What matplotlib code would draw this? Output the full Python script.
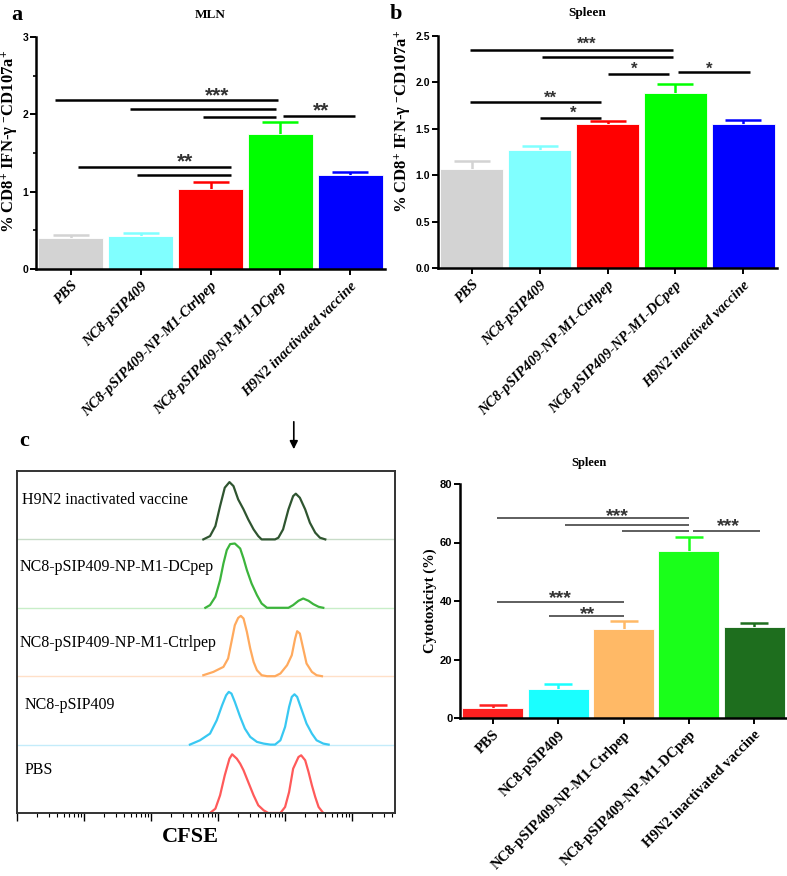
import matplotlib
matplotlib.use('Agg')
import matplotlib.pyplot as plt
import numpy as np

plt.rcParams['font.family'] = ['Liberation Serif', 'DejaVu Serif']
plt.rcParams['mathtext.default'] = 'regular'

# ---- data ----
groups = ['PBS', 'NC8-pSIP409', 'NC8-pSIP409-NP-M1-Ctrlpep',
          'NC8-pSIP409-NP-M1-DCpep', 'H9N2 inactivated vaccine']
groups_b = ['PBS', 'NC8-pSIP409', 'NC8-pSIP409-NP-M1-Ctrlpep',
            'NC8-pSIP409-NP-M1-DCpep', 'H9N2 inactived vaccine']

mln_mean = [0.40, 0.43, 1.04, 1.75, 1.21]
mln_err = [0.04, 0.04, 0.09, 0.15, 0.05]
spleen_mean = [1.07, 1.27, 1.55, 1.89, 1.55]
spleen_err = [0.08, 0.04, 0.03, 0.09, 0.05]
cyto_mean = [3.4, 9.8, 30.3, 57.2, 31.1]
cyto_err = [1.0, 1.7, 2.7, 4.8, 1.4]

colors_ab = ['#d3d3d3', '#80ffff', '#ff0000', '#00ff00', '#0000ff']
colors_c = ['#ff2020', '#1affff', '#ffb966', '#1aff1a', '#1e6e1e']

# significance brackets: start, end, height ; star labels: text, x, y
sig_a_x1 = [-0.23, 0.84, 1.89, 3.04, 0.10, 0.94]
sig_a_x2 = [2.97, 2.94, 2.94, 4.07, 2.30, 2.30]
sig_a_y = [2.18, 2.07, 1.96, 1.98, 1.32, 1.21]
star_a = [('***', 2.10, 2.28), ('**', 3.58, 2.09), ('**', 1.63, 1.43)]

sig_b_x1 = [-0.03, 1.03, 2.00, 3.04, -0.03, 1.00]
sig_b_x2 = [2.97, 2.97, 2.91, 4.10, 1.91, 1.91]
sig_b_y = [2.35, 2.27, 2.09, 2.11, 1.79, 1.62]
star_b = [('***', 1.70, 2.44), ('*', 2.40, 2.17), ('*', 3.50, 2.17),
          ('**', 1.16, 1.86), ('*', 1.50, 1.69)]

sig_c_x1 = [0.07, 1.10, 1.98, 3.06, 0.07, 0.86]
sig_c_x2 = [3.00, 3.00, 3.00, 4.08, 2.00, 2.00]
sig_c_y = [68.3, 65.9, 64.0, 64.0, 39.7, 35.0]
star_c = [('***', 1.90, 70.2), ('***', 3.60, 66.6), ('***', 1.03, 42.0), ('**', 1.45, 36.7)]

# CFSE histograms (log10 intensity, counts), bottom row first
hist_labels = ['PBS', 'NC8-pSIP409', 'NC8-pSIP409-NP-M1-Ctrlpep',
               'NC8-pSIP409-NP-M1-DCpep', 'H9N2 inactivated vaccine']
hist_colors = ['#ff5a5a', '#38c8f2', '#ffaa5e', '#3cb43c', '#2f5530']
base_colors = ['#ffc8c8', '#c4ecfa', '#ffe0c8', '#c8eec8', '#c8dcc8']

pbs_x = [2.88, 2.96, 3.03, 3.10, 3.17, 3.21, 3.28, 3.33, 3.38, 3.45, 3.53, 3.60, 3.68, 3.75,
         3.93, 4.00, 4.06, 4.12, 4.20, 4.24, 4.30, 4.35, 4.40, 4.45, 4.50, 4.57]
pbs_y = [0, 4.3, 17.7, 37.7, 54.3, 58.7, 54.3, 49.3, 42.7, 31, 17.7, 7.7, 2.7, 0,
         0, 6, 21, 44.3, 56, 57.7, 52.7, 41, 27.7, 16, 6, 0]
nc8_x = [2.58, 2.73, 2.88, 2.98, 3.06, 3.12, 3.16, 3.20, 3.25, 3.33, 3.40, 3.48, 3.58, 3.68, 3.78,
         3.85, 3.93, 4.00, 4.06, 4.10, 4.14, 4.18, 4.25, 4.32, 4.40, 4.47, 4.57, 4.65]
nc8_y = [0, 4.3, 11, 24.3, 39.3, 49.3, 52.7, 51, 42.7, 27.7, 16, 7.7, 2.7, 1, 0,
         0, 4.3, 17.7, 37.7, 47.7, 50.3, 47.7, 34.3, 21, 11, 4.3, 1, 0]
ctrl_x = [2.78, 2.93, 3.08, 3.15, 3.20, 3.25, 3.30, 3.34, 3.38, 3.43, 3.48, 3.53, 3.58, 3.65, 3.73,
          3.85, 3.93, 4.03, 4.10, 4.15, 4.18, 4.22, 4.27, 4.32, 4.40, 4.47, 4.55]
ctrl_y = [1, 4.3, 9.3, 17.7, 34.3, 51, 58.3, 60.3, 57.7, 44.3, 27.7, 14.3, 6, 1, 0,
          0, 2.7, 11, 21, 37.7, 45, 42.7, 27.7, 12.7, 4.3, 1, 0]
dc_x = [2.81, 2.88, 2.96, 3.03, 3.08, 3.13, 3.18, 3.25, 3.33, 3.38, 3.43, 3.50, 3.58, 3.65, 3.73,
        4.05, 4.12, 4.20, 4.27, 4.35, 4.42, 4.50, 4.57]
dc_y = [0, 2.7, 11, 27.7, 44.3, 57.7, 63.7, 64.3, 59.3, 49.3, 37.7, 24.3, 12.7, 4.3, 0,
        0, 2.7, 7, 9.3, 7, 3.7, 1, 0]
h9_x = [2.78, 2.88, 2.96, 3.03, 3.10, 3.17, 3.23, 3.30, 3.38, 3.45, 3.53, 3.60, 3.65,
        3.85, 3.90, 3.97, 4.05, 4.12, 4.16, 4.22, 4.30, 4.37, 4.45, 4.52, 4.60]
h9_y = [0, 3.3, 13.3, 33.3, 51.7, 57.3, 53.3, 40, 30, 20, 10, 3.3, 0,
        0, 1.7, 10, 30, 43.3, 45.7, 41.7, 30, 16.7, 6.7, 1.7, 0]
hist_x = [pbs_x, nc8_x, ctrl_x, dc_x, h9_x]
hist_y = [pbs_y, nc8_y, ctrl_y, dc_y, h9_y]

W, H = 787, 876
fig = plt.figure(figsize=(W / 100, H / 100), dpi=100)


def px_axes(left, top, right, bottom):
    return fig.add_axes([left / W, 1 - bottom / H, (right - left) / W, (bottom - top) / H])


def bar_panel(ax, labels, means, errs, colors, capsize, spine_w):
    x = np.arange(len(means))
    ax.bar(x, means, width=0.93, color=colors, edgecolor='white', linewidth=0.6, zorder=2)
    for i in range(len(means)):
        eb = ax.errorbar(x[i], means[i], yerr=[[0], [errs[i]]], fmt='none', ecolor=colors[i],
                         elinewidth=1.8, capsize=capsize, capthick=1.8, zorder=1)
        eb[1][0].set_visible(False)
    ax.set_xlim(-0.5, 4.5)
    ax.spines['top'].set_visible(False)
    ax.spines['right'].set_visible(False)
    ax.spines['left'].set_linewidth(spine_w)
    ax.spines['bottom'].set_linewidth(spine_w)
    ax.tick_params(direction='out', length=4, width=1.4)
    ax.tick_params(axis='y', pad=1.5)
    ax.set_xticks(x)


def significance(ax, x1, x2, y, stars, lw, color, size):
    for a, b, h in zip(x1, x2, y):
        ax.plot([a, b], [h, h], color=color, lw=lw, solid_capstyle='butt', clip_on=False)
    for s, sx, sy in stars:
        ax.annotate(s, (sx, sy), xytext=(0, -0.42 * size), textcoords='offset points',
                    ha='center', va='baseline', fontsize=size, fontweight='bold',
                    family='Liberation Sans', color='#333333')


ylab = '% CD8$^{+}$ IFN-γ $^{-}$CD107a$^{+}$'

# ---- panel a ----
ax_a = px_axes(36, 37, 385, 269)
bar_panel(ax_a, groups, mln_mean, mln_err, colors_ab, 13, 1.8)
ax_a.set_ylim(0, 3)
ax_a.set_yticks([0, 1, 2, 3])
ax_a.set_yticks([0.5, 1.5, 2.5], minor=True)
ax_a.tick_params(which='minor', length=2.5, width=1.2)
ax_a.set_yticklabels(['0', '1', '2', '3'], family='Liberation Sans', fontweight='bold', fontsize=7.5)
ax_a.set_xticklabels(groups, rotation=45, ha='right', rotation_mode='anchor',
                     fontstyle='italic', fontweight='bold', fontsize=10.5)
ax_a.set_ylabel(ylab, fontweight='bold', fontsize=12)
ax_a.yaxis.set_label_coords(-0.045, 0.55)
significance(ax_a, sig_a_x1, sig_a_x2, sig_a_y, star_a, 1.8, 'black', 15)
fig.text(210 / W, 1 - 15 / H, 'MLN', ha='center', va='center', fontweight='bold', fontsize=9.5)
fig.text(17 / W, 1 - 15 / H, 'a', ha='center', va='center', fontweight='bold', fontsize=16)

# ---- panel b ----
ax_b = px_axes(438, 36, 777, 268)
bar_panel(ax_b, groups_b, spleen_mean, spleen_err, colors_ab, 13, 1.8)
ax_b.set_ylim(0, 2.5)
ax_b.set_yticks([0, 0.5, 1.0, 1.5, 2.0, 2.5])
ax_b.set_yticklabels(['0.0', '0.5', '1.0', '1.5', '2.0', '2.5'], family='Liberation Sans',
                     fontweight='bold', fontsize=7.5)
ax_b.set_xticklabels(groups_b, rotation=45, ha='right', rotation_mode='anchor',
                     fontstyle='italic', fontweight='bold', fontsize=10.5)
ax_b.set_ylabel(ylab, fontweight='bold', fontsize=12)
ax_b.yaxis.set_label_coords(-0.074, 0.63)
significance(ax_b, sig_b_x1, sig_b_x2, sig_b_y, star_b, 1.8, 'black', 12)
fig.text(587 / W, 1 - 13 / H, 'Spleen', ha='center', va='center', fontweight='bold', fontsize=9.5)
fig.text(396 / W, 1 - 14 / H, 'b', ha='center', va='center', fontweight='bold', fontsize=16)

# ---- panel c bars ----
ax_c = px_axes(460, 484, 787, 718)
bar_panel(ax_c, groups, cyto_mean, cyto_err, colors_c, 10, 1.8)
ax_c.set_ylim(0, 80)
ax_c.set_yticks([0, 20, 40, 60, 80])
ax_c.set_yticklabels(['0', '20', '40', '60', '80'], family='Liberation Sans',
                     fontweight='bold', fontsize=8)
ax_c.set_xticklabels(groups, rotation=45, ha='right', rotation_mode='anchor',
                     fontweight='bold', fontsize=10.5)
ax_c.set_ylabel('Cytotoxiciyt (%)', fontweight='bold', fontsize=10.5)
ax_c.yaxis.set_label_coords(-0.07, 0.5)
significance(ax_c, sig_c_x1, sig_c_x2, sig_c_y, star_c, 1.1, '#333333', 14)
fig.text(589 / W, 1 - 463 / H, 'Spleen', ha='center', va='center', fontweight='bold', fontsize=9)

# ---- panel c histograms ----
ax_h = px_axes(17, 471, 395, 813)
row = 68.4
for i in range(5):
    base = i * row
    ax_h.axhline(base, color=base_colors[i], lw=1.0, zorder=1)
    ax_h.plot(10 ** np.array(hist_x[i]), base + np.array(hist_y[i]), color=hist_colors[i],
              lw=1.6, zorder=2)
ax_h.set_xscale('log')
ax_h.set_xlim(1, 10 ** 5.64)
ax_h.set_ylim(0, 342)
ax_h.set_yticks([])
ax_h.tick_params(axis='x', which='major', direction='out', length=6, width=1.0, labelbottom=False)
ax_h.tick_params(axis='x', which='minor', direction='out', length=3, width=0.8)
for sp in ax_h.spines.values():
    sp.set_color('#333333')
    sp.set_linewidth(1.4)
label_y = [43, 108, 170, 246, 313]
label_x = [0.019, 0.019, 0.008, 0.008, 0.013]
for i in range(5):
    ax_h.text(label_x[i], label_y[i] / 342, hist_labels[i], transform=ax_h.transAxes,
              ha='left', va='center', fontsize=11.5)
ax_h.annotate('', xy=(10 ** 4.13, 361), xytext=(10 ** 4.13, 394), annotation_clip=False,
              arrowprops=dict(arrowstyle='-|>', color='black', lw=1.2, mutation_scale=12))
fig.text(190 / W, 1 - 837 / H, 'CFSE', ha='center', va='center', fontweight='bold', fontsize=16)
fig.text(24 / W, 1 - 441 / H, 'c', ha='center', va='center', fontweight='bold', fontsize=16)

fig.savefig('out.png', dpi=100)
